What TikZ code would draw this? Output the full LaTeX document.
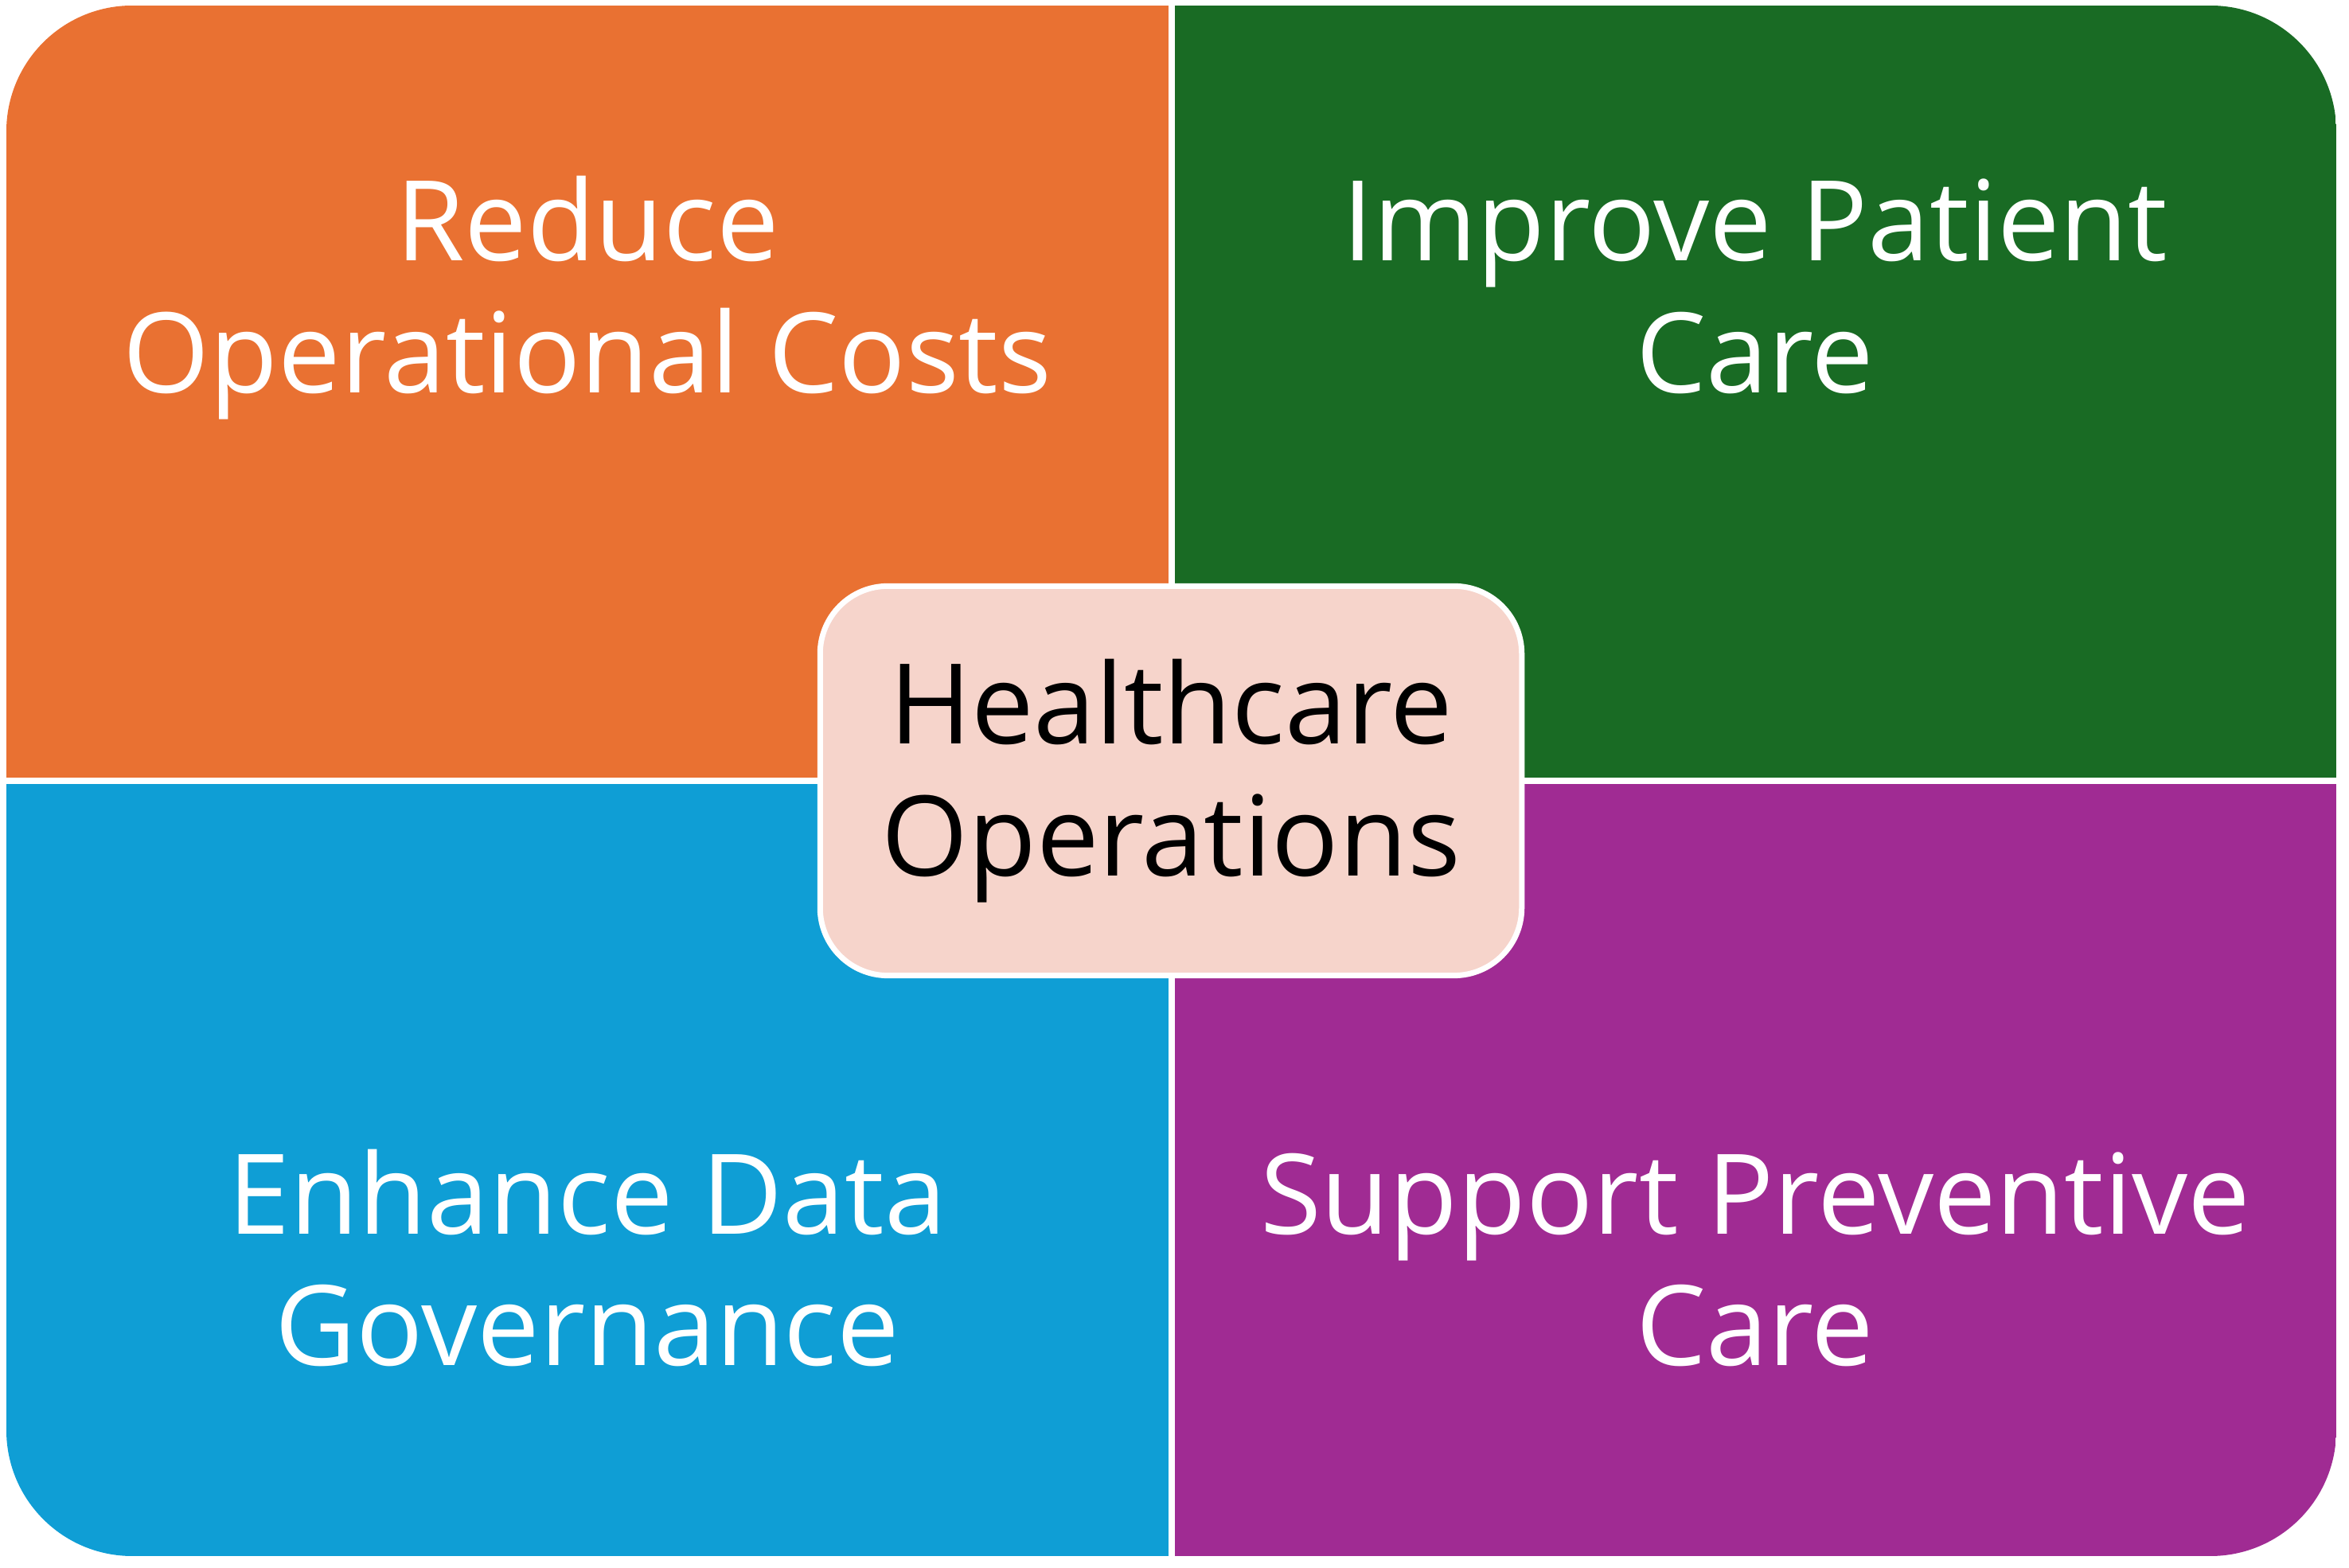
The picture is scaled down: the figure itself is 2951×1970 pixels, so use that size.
\documentclass[tikz,border=0pt]{standalone}
\usepackage{fontspec}
\setmainfont{Open Sans}

\definecolor{qorange}{HTML}{E97132}
\definecolor{qgreen}{HTML}{196B24}
\definecolor{qblue}{HTML}{0F9ED5}
\definecolor{qpurple}{HTML}{A02B93}
\definecolor{hubpink}{HTML}{F6D4CB}

\tikzset{
  quadlabel/.style={text=white, align=center, anchor=base, inner sep=0pt,
    font=\fontsize{39.8}{47.2}\selectfont},
  hubbox/.style={rectangle, rounded corners=0.85cm, fill=hubpink, draw=white,
    line width=0.07cm, minimum width=8.81cm, minimum height=4.89cm,
    align=center, font=\fontsize{39.8}{47.2}\selectfont}
}

\begin{document}
\begin{tikzpicture}[x=0.01cm,y=0.01cm]
\useasboundingbox (0,0) rectangle (2951,1970);
\begin{scope}
\clip[rounded corners=1.58cm] (8,15) rectangle (2935,1963);
\fill[qorange] (8,989) rectangle (1472,1963);
\fill[qgreen] (1472,989) rectangle (2935,1963);
\fill[qblue] (8,15) rectangle (1472,989);
\fill[qpurple] (1472,15) rectangle (2935,989);
\end{scope}
\draw[white, line width=0.08cm] (1472,0) -- (1472,1970);
\draw[white, line width=0.08cm] (0,989) -- (2951,989);

\node[quadlabel] (cost) at (738,1476) {Reduce\\Operational Costs};
\node[quadlabel] (care) at (2205,1476) {Improve Patient\\Care};
\node[quadlabel] (data) at (738,254) {Enhance Data\\Governance};
\node[quadlabel] (prev) at (2205,254) {Support Preventive\\Care};

\node[hubbox] (hub) at (1471,989) {Healthcare\\Operations};
\end{tikzpicture}
\end{document}
